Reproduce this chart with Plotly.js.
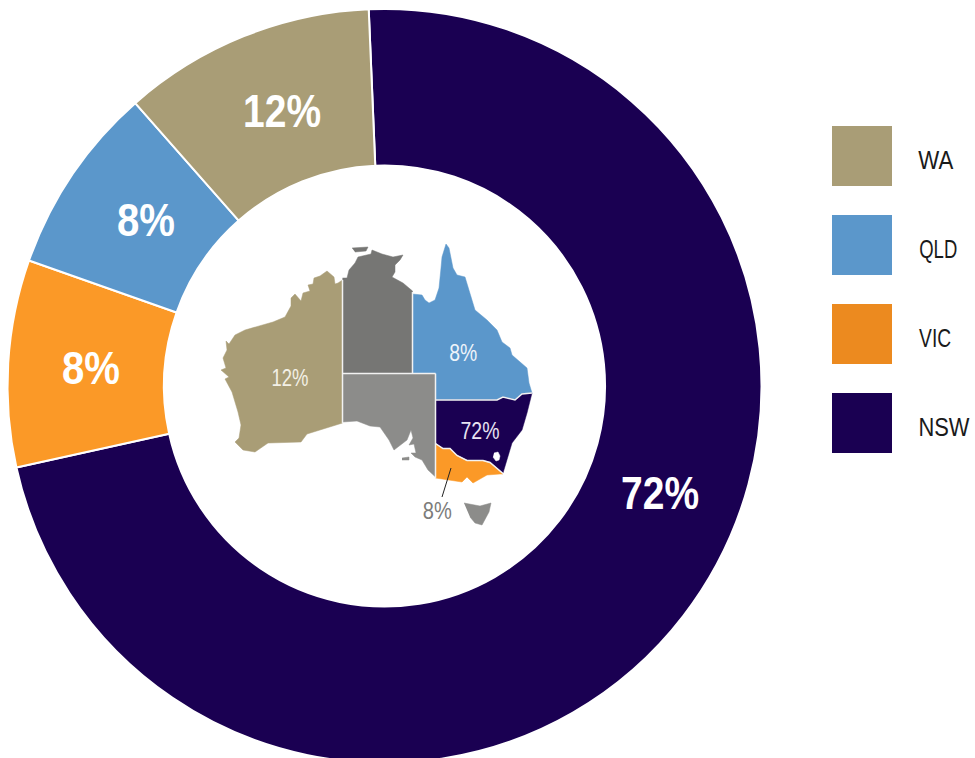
<!DOCTYPE html>
<html><head><meta charset="utf-8">
<script src="https://cdn.plot.ly/plotly-3.0.1.min.js"></script>
<style>html,body{margin:0;padding:0;background:#fff;overflow:hidden;width:975px;height:758px}#c{width:975px;height:770px}</style>
</head><body><div id="c"></div>
<script>
// Slice data, in drawing order (clockwise)
const states = ['NSW','VIC','QLD','WA'];
const shares = [72.2,8.87,8.1,10.83];
const shareLabels = ['72%','8%','8%','12%'];
const sliceColors = ['#1A0052','#FB9927','#5B97CB','#A99D76'];
// Legend
const legendNames = ['WA','QLD','VIC','NSW'];
const legendColors = ['#A99D76','#5B97CB','#EC8A1F','#1A0052'];
// Map outlines
const waX=[342.5,338,335,334,327,320,314,313,308,310,303,301,295,291,291,285,273,258,245,235,229,226,227,223,226,221,229,225,232,238,241,239,235,243,255,268,290,301,307,323,342.5];
const waY=[280,283,284,277,271,276,278,284,285,291,293,301,294,298,306,317,322,326,330,335,344,341,350,358,368,370,377,379,392,412,425,438,442,450,452,443,442,442,434,429,423];
const ntX=[342.5,347,349,355,358,371,372,382,393,403,400,395,395,392,403,412.5,412.5,342.5];
const ntY=[278,278,270,263,257,254,250,254,257,255,260,265,272,277,283,291,373.5,373.5];
const tiwiX=[352,368,366,355], tiwiY=[248,247,251,252];
const qldX=[412.5,422,425,429,435,439,441,442,446,449,453,457,465,469,475,487,497,502,510,512,527,529,532,522,515,503,497,435.5,435.5,412.5];
const qldY=[294,295,300,303,300,288,268,257,244,248,268,275,277,290,310,320,330,342,348,355,368,383,393,394,400,397,400,400,373.5,373.5];
const saX=[342.5,435.5,435.5,428,422,415,411,416,414,409,413,411,407,400,394,389,384,380,370,357,342.5];
const saY=[374,374,477,470,460,457,453,453,444,445,438,430,440,445,450,440,432,427,426,421,422];
const kiX=[402,409,409,402], kiY=[458,457,460,460];
const nswX=[435.5,497,503,515,522,532,527,522,512,507,503,490,483,467,457,450,443,435.5];
const nswY=[400,400,397,400,394,393,413,430,443,460,473,462,460,460,455,448,448,443];
const actX=[494,498,500,499,496,493];
const actY=[453,452,456,460,461,457];
const vicX=[435.5,443,450,457,467,483,490,503,500,487,473,467,462,450,435.5];
const vicY=[444,449,449,456,461,461,463,474,474,475,483,477,482,480,478];
const tasX=[464,473,480,491,489,482,475,470];
const tasY=[503,505,506,503,512,525,523,517];
const regions=[
 [waX,waY,'#A99D76'],[ntX,ntY,'#767674'],[tiwiX,tiwiY,'#767674'],[saX,saY,'#8C8C8A'],[kiX,kiY,'#8C8C8A'],[qldX,qldY,'#5B97CB'],
 [nswX,nswY,'#1A0052'],[vicX,vicY,'#FB9927'],[tasX,tasY,'#8C8C8A'],[actX,actY,'#FFFFFF']];
// State borders
const borders=[
 [[342.5,342.5],[280,423]],
 [[412.5,412.5],[292,373.5]],
 [[342.5,435.5],[373.5,373.5]],
 [[435.5,435.5],[373.5,478]],
 [[435.5,497,503,515,522,532],[400,400,397,400,394,393]],
 [[435.5,443,450,457,467,483,490,503],[443.5,448.5,448.5,455.5,460.5,460.5,462.5,473.5]]];
// Text placements
const ringLabelX=[659.5,90.5,145.5,281.5], ringLabelY=[492,367,219,110];
const ringLabelW=[78,58,58,78];
const mapLabels=['12%','8%','72%','8%'];
const mapLabelX=[289.5,463,479.5,437], mapLabelY=[377,352,430,510];
const mapLabelW=[37,28,39,29];
const mapLabelColors=['#F3F0E6','#EEF4FA','#E8E4F2','#7C7C7A'];
const legendLabelX=[936,938,935,943.5];
const legendLabelW=[35,38,32,51];
const leaderX=[451,442], leaderY=[468,497];

const H=770, font='"Liberation Sans",sans-serif';
const base={type:'scatter',mode:'lines',hoverinfo:'skip',showlegend:false};
const traces=regions.map(r=>({...base,x:r[0],y:r[1],fill:'toself',fillcolor:r[2],line:{color:r[2],width:0.5}}));
borders.forEach(b=>traces.push({...base,x:b[0],y:b[1],line:{color:'#F2F2F2',width:1.5}}));
traces.push({...base,x:leaderX,y:leaderY,line:{color:'#222222',width:1}});
traces.push({type:'pie',labels:states,values:shares,sort:false,direction:'clockwise',rotation:-2.4,hole:0.585,
  textinfo:'none',hoverinfo:'label+percent',showlegend:false,
  marker:{colors:sliceColors,line:{color:'#FFFFFF',width:2}},
  domain:{x:[7.5/975,761.5/975],y:[1-763/H,1-9/H]}});
const annotations=[], widths=[];
shareLabels.forEach((t,i)=>{annotations.push({x:ringLabelX[i],y:ringLabelY[i],xref:'x',yref:'y',text:'<b>'+t+'</b>',showarrow:false,
  font:{family:font,size:47,color:'#FFFFFF'}});widths.push(ringLabelW[i]);});
mapLabels.forEach((t,i)=>{annotations.push({x:mapLabelX[i],y:mapLabelY[i],xref:'x',yref:'y',text:t,showarrow:false,
  font:{family:font,size:24,color:mapLabelColors[i]}});widths.push(mapLabelW[i]);});
const shapes=[];
legendNames.forEach((n,i)=>{
  const top=126+i*89;
  shapes.push({type:'rect',xref:'x',yref:'y',x0:832,x1:892,y0:top,y1:top+60,fillcolor:legendColors[i],line:{width:0}});
  annotations.push({x:legendLabelX[i],y:top+34,xref:'x',yref:'y',text:n,showarrow:false,font:{family:font,size:26.5,color:'#1A1A1A'}});
  widths.push(legendLabelW[i]);
});
Plotly.newPlot('c',traces,{
  width:975,height:H,margin:{l:0,r:0,t:0,b:0},paper_bgcolor:'#fff',plot_bgcolor:'#fff',showlegend:false,
  xaxis:{range:[0,975],visible:false,fixedrange:true},
  yaxis:{range:[H,0],visible:false,fixedrange:true},
  annotations,shapes
},{displayModeBar:false,staticPlot:true}).then(()=>{
  // The reference type is condensed: narrow each real text to its measured width.
  document.querySelectorAll('.annotation-text').forEach((el,i)=>{
    el.setAttribute('textLength',widths[i]);
    el.setAttribute('lengthAdjust','spacingAndGlyphs');
  });
});
</script></body></html>
